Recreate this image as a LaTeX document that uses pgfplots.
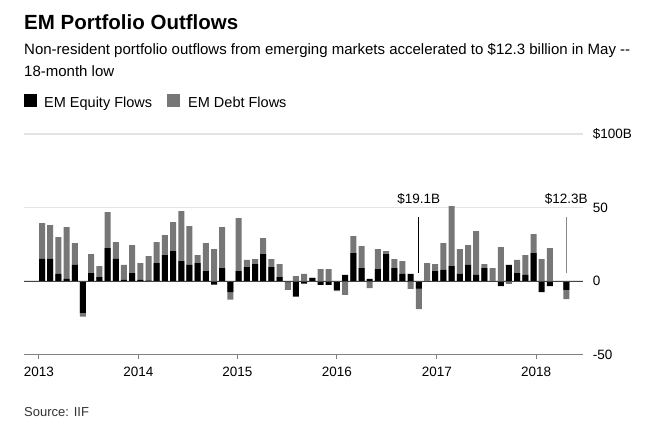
\documentclass[border=0pt]{standalone}
\usepackage{fontspec}
\setmainfont{Liberation Sans}
\usepackage{pgfplots}
\usepackage{pgfplotstable}
\pgfplotsset{compat=1.18}
\definecolor{debtgray}{HTML}{777777}
\definecolor{gridc}{HTML}{E4E4E4}
\definecolor{zeroc}{HTML}{444444}
\definecolor{axisc}{HTML}{808080}
\definecolor{annc}{HTML}{888888}

% x = month index (0 = Jan 2013), e = equity flows, d = debt flows ($B)
\pgfplotstableread{
x e d
0 15.0 24.4
1 15.0 23.0
2 4.8 25.1
3 1.4 35.3
4 10.9 14.9
5 -21.7 -2.5
6 5.4 12.9
7 2.7 7.5
8 22.4 24.4
9 15.0 11.5
10 0.7 10.2
11 5.4 19.0
12 0.7 11.5
13 0.3 16.7
14 12.2 14.3
15 17.6 13.6
16 20.4 19.6
17 13.6 33.9
18 10.9 26.4
19 12.2 5.4
20 6.8 19.0
21 -2.5 21.7
22 8.8 27.9
23 -7.5 -5.2
24 6.8 36.0
25 9.5 4.8
26 11.5 3.4
27 18.3 10.9
28 9.5 5.4
29 2.7 8.8
30 -0.8 -5.3
31 -10.6 3.4
32 -1.8 4.8
33 2.0 0.3
34 -2.7 8.1
35 -2.7 8.1
36 -6.1 -0.7
37 4.1 -9.5
38 19.0 11.5
39 8.8 15.0
40 1.4 -4.8
41 8.1 13.6
42 18.3 2.1
43 8.8 6.1
44 4.8 8.8
45 4.8 -5.4
46 -5.2 -13.9
47 0.0 12.2
48 6.8 4.7
49 7.5 18.3
50 10.2 40.7
51 4.8 16.9
52 10.9 13.5
53 4.1 29.8
54 8.8 2.7
55 -0.5 8.8
56 -3.4 23.1
57 10.9 -2.0
58 5.4 8.9
59 4.1 13.5
60 19.0 12.9
61 -7.5 14.9
62 -3.4 22.4
63 0.0 0.0
64 -6.1 -6.2
}\flows

\begin{document}
\begin{tikzpicture}[x=1pt,y=1pt]
\useasboundingbox (0,0) rectangle (666,-441);
% title block
\node[anchor=base west, inner sep=0pt, font=\bfseries\fontsize{20.5}{24}\selectfont] at (24,-30) {EM Portfolio Outflows};
\node[anchor=base west, inner sep=0pt, font=\fontsize{15}{18}\selectfont] at (24,-55) {Non-resident portfolio outflows from emerging markets accelerated to \$12.3 billion in May -{}-};
\node[anchor=base west, inner sep=0pt, font=\fontsize{15}{18}\selectfont] at (24,-77) {18-month low};
% legend
\fill[black] (24,-94) rectangle (37,-107);
\node[anchor=base west, inner sep=0pt, font=\fontsize{14.5}{17}\selectfont] at (44,-107) {EM Equity Flows};
\fill[debtgray] (167,-94) rectangle (180,-107);
\node[anchor=base west, inner sep=0pt, font=\fontsize{14.5}{17}\selectfont] at (188,-107) {EM Debt Flows};
% source
\node[anchor=base west, inner sep=0pt, font=\fontsize{13}{15}\selectfont, text=black!80] at (24,-416) {Source: IIF};

\begin{axis}[
  at={(24pt,-354.5pt)}, anchor=south west, scale only axis,
  width=558.7pt, height=220.5pt,
  xmin=-2.2, xmax=66, ymin=-50, ymax=100,
  axis x line*=bottom, axis y line*=right,
  x axis line style={draw=axisc, line width=1.3pt},
  y axis line style={draw=none},
  xtick={-0.37,11.76,23.85,35.98,48.19,60.32},
  xticklabels={2013,2014,2015,2016,2017,2018},
  tick align=outside,
  major tick length=4pt,
  xtick style={draw=axisc, line width=1pt},
  ytick={-50,0,50,100},
  yticklabels={-50,0,50,\$100B},
  ytick style={draw=none},
  ymajorgrids, grid style={draw=gridc, line width=1.5pt},
  tick label style={font=\fontsize{13.5}{16}\selectfont},
  yticklabel style={anchor=west, inner sep=0pt, xshift=6pt},
  xticklabel style={anchor=north, inner sep=0pt, yshift=-8pt},
  /pgf/number format/assume math mode=true,
  clip=false,
]
\addplot[ybar, bar width=6pt, bar shift=0pt, fill=debtgray, draw=none]
  table[x=x, y expr={ifthenelse(\thisrow{e}*\thisrow{d}>0, \thisrow{e}+\thisrow{d}, \thisrow{d})}] {\flows};
\addplot[ybar, bar width=6pt, bar shift=0pt, fill=black, draw=none]
  table[x=x, y=e] {\flows};
\draw[zeroc, line width=1pt] (axis cs:-2.2,0) -- (axis cs:66,0);
\draw[black, line width=1pt] (axis cs:46,5.6) -- (axis cs:46,43.5);
\draw[annc, line width=1.5pt] (axis cs:64,5.6) -- (axis cs:64,43.5);
\node[anchor=base, inner sep=0pt, font=\fontsize{13.5}{16}\selectfont] at (axis cs:46,52.5) {\$19.1B};
\node[anchor=base, inner sep=0pt, font=\fontsize{13.5}{16}\selectfont] at (axis cs:64,52.5) {\$12.3B};
\end{axis}
\end{tikzpicture}
\end{document}
